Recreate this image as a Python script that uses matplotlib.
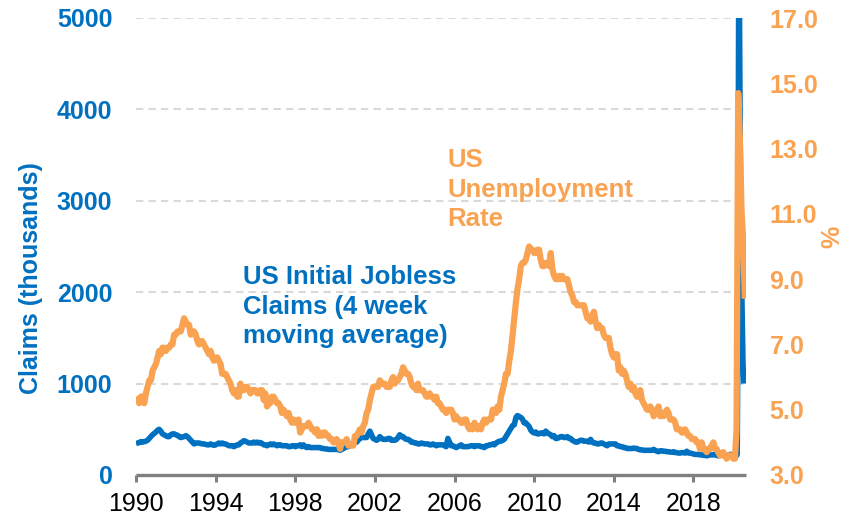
import numpy as np
import pandas as pd
import matplotlib
matplotlib.use("Agg")
import matplotlib.pyplot as plt

plt.rcParams['font.family'] = ['Liberation Sans', 'DejaVu Sans']

# ---------------- data ----------------
# US unemployment rate (%), monthly, Jan 1990 - Aug 2020
unemp_1990 = [5.4, 5.3, 5.2, 5.4, 5.4, 5.2, 5.5, 5.7, 5.9, 5.9, 6.2, 6.3]
unemp_1991 = [6.4, 6.6, 6.8, 6.7, 6.9, 6.9, 6.8, 6.9, 6.9, 7.0, 7.0, 7.3]
unemp_1992 = [7.3, 7.4, 7.4, 7.4, 7.6, 7.8, 7.7, 7.6, 7.6, 7.3, 7.4, 7.4]
unemp_1993 = [7.3, 7.1, 7.0, 7.1, 7.1, 7.0, 6.9, 6.8, 6.7, 6.8, 6.6, 6.5]
unemp_1994 = [6.6, 6.6, 6.5, 6.4, 6.1, 6.1, 6.1, 6.0, 5.9, 5.8, 5.6, 5.5]
unemp_1995 = [5.6, 5.4, 5.4, 5.8, 5.6, 5.6, 5.7, 5.7, 5.6, 5.5, 5.6, 5.6]
unemp_1996 = [5.6, 5.5, 5.5, 5.6, 5.6, 5.3, 5.5, 5.1, 5.2, 5.2, 5.4, 5.4]
unemp_1997 = [5.3, 5.2, 5.2, 5.1, 4.9, 5.0, 4.9, 4.8, 4.9, 4.7, 4.6, 4.7]
unemp_1998 = [4.6, 4.6, 4.7, 4.3, 4.4, 4.5, 4.5, 4.5, 4.6, 4.5, 4.4, 4.4]
unemp_1999 = [4.3, 4.4, 4.2, 4.3, 4.2, 4.3, 4.3, 4.2, 4.2, 4.1, 4.1, 4.0]
unemp_2000 = [4.0, 4.1, 4.0, 3.8, 4.0, 4.0, 4.0, 4.1, 3.9, 3.9, 3.9, 3.9]
unemp_2001 = [4.2, 4.2, 4.3, 4.4, 4.3, 4.5, 4.6, 4.9, 5.0, 5.3, 5.5, 5.7]
unemp_2002 = [5.7, 5.7, 5.7, 5.9, 5.8, 5.8, 5.8, 5.7, 5.7, 5.7, 5.9, 6.0]
unemp_2003 = [5.8, 5.9, 5.9, 6.0, 6.1, 6.3, 6.2, 6.1, 6.1, 6.0, 5.8, 5.7]
unemp_2004 = [5.7, 5.6, 5.8, 5.6, 5.6, 5.6, 5.5, 5.4, 5.4, 5.5, 5.4, 5.4]
unemp_2005 = [5.3, 5.4, 5.2, 5.2, 5.1, 5.0, 5.0, 4.9, 5.0, 5.0, 5.0, 4.9]
unemp_2006 = [4.7, 4.8, 4.7, 4.7, 4.6, 4.6, 4.7, 4.7, 4.5, 4.4, 4.5, 4.4]
unemp_2007 = [4.6, 4.5, 4.4, 4.5, 4.4, 4.6, 4.7, 4.6, 4.7, 4.7, 4.7, 5.0]
unemp_2008 = [5.0, 4.9, 5.1, 5.0, 5.4, 5.6, 5.8, 6.1, 6.1, 6.5, 6.8, 7.3]
unemp_2009 = [7.8, 8.3, 8.7, 9.0, 9.4, 9.5, 9.5, 9.6, 9.8, 10.0, 9.9, 9.9]
unemp_2010 = [9.8, 9.8, 9.9, 9.9, 9.6, 9.4, 9.4, 9.5, 9.5, 9.4, 9.8, 9.3]
unemp_2011 = [9.1, 9.0, 9.0, 9.1, 9.0, 9.1, 9.0, 9.0, 9.0, 8.8, 8.6, 8.5]
unemp_2012 = [8.3, 8.3, 8.2, 8.2, 8.2, 8.2, 8.2, 8.0, 7.8, 7.8, 7.7, 7.9]
unemp_2013 = [8.0, 7.7, 7.5, 7.6, 7.5, 7.5, 7.3, 7.2, 7.2, 7.2, 6.9, 6.7]
unemp_2014 = [6.6, 6.7, 6.7, 6.2, 6.3, 6.1, 6.2, 6.1, 5.9, 5.7, 5.8, 5.6]
unemp_2015 = [5.7, 5.5, 5.4, 5.4, 5.6, 5.3, 5.2, 5.1, 5.0, 5.0, 5.1, 5.0]
unemp_2016 = [4.8, 4.9, 5.0, 5.1, 4.8, 4.9, 4.8, 4.9, 5.0, 4.9, 4.7, 4.7]
unemp_2017 = [4.7, 4.6, 4.4, 4.4, 4.4, 4.3, 4.3, 4.4, 4.3, 4.2, 4.2, 4.1]
unemp_2018 = [4.1, 4.1, 4.0, 4.0, 3.8, 4.0, 3.8, 3.8, 3.7, 3.8, 3.8, 3.9]
unemp_2019 = [4.0, 3.8, 3.8, 3.7, 3.6, 3.6, 3.7, 3.6, 3.5, 3.6, 3.6, 3.6]
unemp_2020 = [3.5, 3.5, 4.4, 14.7, 13.3, 11.1, 10.2, 8.4]

# US initial jobless claims, 4-week moving average (thousands), monthly Jan 1990 - Feb 2020
claims_1990 = [345, 350, 355, 365, 360, 365, 370, 380, 400, 420, 440, 455]
claims_1991 = [470, 490, 500, 480, 450, 440, 430, 420, 420, 440, 450, 450]
claims_1992 = [440, 435, 420, 410, 415, 420, 430, 420, 400, 380, 360, 340]
claims_1993 = [350, 350, 350, 345, 340, 340, 335, 330, 330, 340, 330, 325]
claims_1994 = [330, 340, 350, 340, 350, 340, 340, 330, 320, 320, 320, 310]
claims_1995 = [320, 330, 330, 350, 360, 375, 370, 360, 350, 350, 350, 360]
claims_1996 = [350, 360, 350, 355, 345, 330, 330, 320, 330, 340, 330, 340]
claims_1997 = [330, 320, 330, 330, 320, 320, 320, 320, 310, 310, 320, 320]
claims_1998 = [310, 320, 320, 330, 310, 330, 310, 300, 310, 300, 300, 300]
claims_1999 = [300, 300, 300, 300, 290, 290, 285, 285, 280, 280, 280, 280]
claims_2000 = [280, 280, 280, 270, 280, 290, 300, 310, 310, 320, 340, 350]
claims_2001 = [360, 360, 380, 400, 410, 410, 410, 410, 450, 480, 440, 400]
claims_2002 = [390, 380, 390, 420, 400, 390, 390, 390, 400, 400, 380, 380]
claims_2003 = [380, 390, 410, 440, 420, 420, 400, 390, 390, 380, 360, 360]
claims_2004 = [350, 350, 340, 340, 350, 345, 340, 340, 340, 330, 330, 340]
claims_2005 = [330, 320, 330, 330, 330, 330, 320, 310, 400, 360, 320, 320]
claims_2006 = [310, 300, 310, 320, 330, 310, 310, 310, 310, 315, 320, 320]
claims_2007 = [310, 320, 320, 320, 310, 310, 300, 320, 320, 330, 330, 340]
claims_2008 = [330, 350, 360, 370, 370, 380, 390, 420, 450, 480, 510, 540]
claims_2009 = [550, 630, 650, 640, 630, 610, 570, 570, 550, 530, 490, 470]
claims_2010 = [460, 470, 450, 450, 460, 460, 450, 480, 460, 450, 440, 420]
claims_2011 = [430, 400, 400, 410, 420, 420, 410, 410, 420, 400, 400, 380]
claims_2012 = [370, 360, 360, 370, 380, 380, 370, 370, 370, 360, 390, 360]
claims_2013 = [350, 350, 340, 340, 350, 350, 340, 330, 320, 340, 340, 340]
claims_2014 = [340, 340, 320, 320, 310, 310, 300, 300, 290, 290, 290, 290]
claims_2015 = [295, 290, 290, 280, 275, 275, 270, 270, 270, 270, 270, 270]
claims_2016 = [280, 270, 260, 255, 265, 265, 260, 260, 255, 255, 250, 250]
claims_2017 = [255, 245, 245, 240, 240, 245, 245, 240, 260, 240, 240, 235]
claims_2018 = [230, 225, 225, 225, 220, 220, 215, 215, 210, 215, 220, 220]
claims_2019 = [220, 230, 215, 210, 215, 220, 215, 215, 210, 215, 225, 225]
claims_2020_monthly = [215, 210]
# weekly 2020 from week ending 7 March
claims_2020_weekly = [214, 232, 998, 2667, 4268, 5506, 5790, 5035, 4175, 3538,
                      3039, 2608, 2288, 2008, 1760, 1500, 1250, 1100, 1000]

tick_years = [1990, 1994, 1998, 2002, 2006, 2010, 2014, 2018]
left_ticks = [0, 1000, 2000, 3000, 4000, 5000]
right_ticks = [3.0, 5.0, 7.0, 9.0, 11.0, 13.0, 15.0, 17.0]

unemp = (unemp_1990 + unemp_1991 + unemp_1992 + unemp_1993 + unemp_1994 + unemp_1995 +
         unemp_1996 + unemp_1997 + unemp_1998 + unemp_1999 + unemp_2000 + unemp_2001 +
         unemp_2002 + unemp_2003 + unemp_2004 + unemp_2005 + unemp_2006 + unemp_2007 +
         unemp_2008 + unemp_2009 + unemp_2010 + unemp_2011 + unemp_2012 + unemp_2013 +
         unemp_2014 + unemp_2015 + unemp_2016 + unemp_2017 + unemp_2018 + unemp_2019 +
         unemp_2020)
claims_m = (claims_1990 + claims_1991 + claims_1992 + claims_1993 + claims_1994 + claims_1995 +
            claims_1996 + claims_1997 + claims_1998 + claims_1999 + claims_2000 + claims_2001 +
            claims_2002 + claims_2003 + claims_2004 + claims_2005 + claims_2006 + claims_2007 +
            claims_2008 + claims_2009 + claims_2010 + claims_2011 + claims_2012 + claims_2013 +
            claims_2014 + claims_2015 + claims_2016 + claims_2017 + claims_2018 + claims_2019 +
            claims_2020_monthly)

def dec_year(dates):
    d = pd.DatetimeIndex(dates)
    days = np.where(d.is_leap_year, 366.0, 365.0)
    return d.year + (d.dayofyear - 1) / days

u_dates = pd.date_range("1990-01-01", periods=len(unemp), freq="MS")
c_dates_m = pd.date_range("1990-01-01", periods=len(claims_m), freq="MS")
c_dates_w = pd.date_range("2020-03-07", periods=len(claims_2020_weekly), freq="7D")
u_x = dec_year(u_dates)
c_x = np.concatenate([dec_year(c_dates_m), dec_year(c_dates_w)])
c_y = np.array(claims_m + claims_2020_weekly, dtype=float)

# ---------------- plot ----------------
BLUE = "#0070C0"
ORANGE = "#F9A352"
GRID = "#D9D9D9"
AXIS = "#808080"

fig = plt.figure(figsize=(8.47, 5.21), dpi=100)
ax = fig.add_axes([136/847, 46/521, 610/847, 457/521])
ax2 = ax.twinx()

ax.plot(c_x, c_y, color=BLUE, lw=4.0, solid_joinstyle="round", solid_capstyle="butt")
ax2.plot(u_x, unemp, color=ORANGE, lw=4.5, solid_joinstyle="round", solid_capstyle="butt")

ax.set_xlim(1990, 2020.64)
ax.set_ylim(0, 5000)
ax2.set_ylim(3.0, 17.0)

ax.set_yticks(left_ticks)
ax.set_yticklabels([f"{v:d}" for v in left_ticks])
ax2.set_yticks(right_ticks)
ax2.set_yticklabels([f"{v:.1f}" for v in right_ticks])
ax.set_xticks(tick_years)
ax.set_xticklabels([str(y) for y in tick_years])

ax.grid(axis="y", color=GRID, lw=1.5, linestyle=(0, (3.5, 2.5)))
ax.set_axisbelow(True)

for a in (ax, ax2):
    for s in ("top", "left", "right", "bottom"):
        a.spines[s].set_visible(False)
ax.spines["bottom"].set_visible(True)
ax.spines["bottom"].set_color(AXIS)
ax.spines["bottom"].set_linewidth(2.4)
ax.spines["bottom"].set_capstyle("butt")

ax.tick_params(axis="x", direction="out", length=5, width=2.2, color=AXIS,
               labelsize=18, labelcolor="black", pad=7)
ax.tick_params(axis="y", length=0, pad=17, labelsize=18, labelcolor=BLUE)
ax2.tick_params(axis="y", length=0, pad=17, labelsize=18, labelcolor=ORANGE)
for lab in ax.get_yticklabels():
    lab.set_fontweight("bold")
for lab in ax2.get_yticklabels():
    lab.set_fontweight("bold")

ax.set_ylabel("Claims (thousands)", color=BLUE, fontsize=18, fontweight="bold")
ax.yaxis.set_label_coords(-0.152, 0.43)
ax2.set_ylabel("%", color=ORANGE, fontsize=18, fontweight="bold")
ax2.yaxis.set_label_coords(1.122, 0.52)

fig.text(243/847, 1 - 265/521, "US Initial Jobless\nClaims (4 week\nmoving average)",
         color=BLUE, fontsize=18.5, fontweight="bold", ha="left", va="top", linespacing=1.3)
fig.text(447/847, 1 - 148/521, "US\nUnemployment\nRate",
         color=ORANGE, fontsize=18.5, fontweight="bold", ha="left", va="top", linespacing=1.3)

fig.savefig("out.png", dpi=100)
